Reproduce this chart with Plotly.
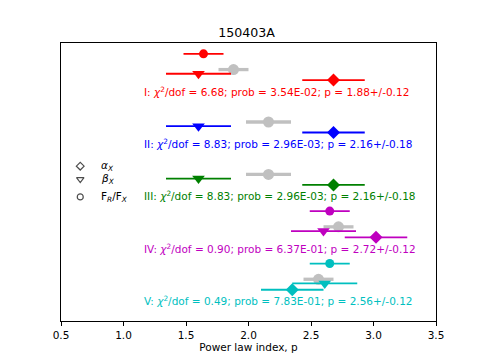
import plotly.graph_objects as go

# ---- data ----
groups = ["I", "II", "III", "IV", "V"]
colors = ["#ff0000", "#0000ff", "#008000", "#bf00bf", "#00bfbf"]
chi2_dof = [6.68, 8.83, 8.83, 0.90, 0.49]
prob = ["3.54E-02", "2.96E-03", "2.96E-03", "6.37E-01", "7.83E-01"]
p_fit = [1.88, 2.16, 2.16, 2.72, 2.56]
p_fit_err = [0.12, 0.18, 0.18, 0.12, 0.12]
alpha_p = [2.68, 2.68, 2.68, 3.02, 2.35]
alpha_err = [0.25, 0.25, 0.25, 0.25, 0.25]
beta_p = [1.60, 1.60, 1.60, 2.60, 2.61]
beta_err = [0.26, 0.26, 0.26, 0.26, 0.26]
ratio_p = [1.64, None, None, 2.65, 2.65]
ratio_err = [0.16, None, None, 0.16, 0.16]

legend_labels = ["<i>α</i><sub><i>X</i></sub>",
                 "<i>β</i><sub><i>X</i></sub>",
                 "F<sub><i>R</i></sub>/F<sub><i>X</i></sub>"]
legend_symbols = ["diamond-open", "triangle-down-open", "circle-open"]

x_ticks = [0.5, 1.0, 1.5, 2.0, 2.5, 3.0, 3.5]

# vertical layout of rows within each group
off_ratio, off_fit, off_beta, off_alpha = -0.71, -0.41, -0.33, -0.21
legend_y = [2.432, 2.682, 3.019]

FONT = "DejaVu Sans"
fig = go.Figure()

for i, g in enumerate(groups):
    base = i + 1
    c = colors[i]
    # combined fit (grey)
    fig.add_trace(go.Scatter(
        x=[p_fit[i]], y=[base + off_fit], mode="markers",
        marker=dict(symbol="circle", size=11, color="#c0c0c0"),
        error_x=dict(type="data", array=[p_fit_err[i]], color="#c0c0c0",
                     thickness=3.3, width=0),
        showlegend=False, hoverinfo="skip"))
    if ratio_p[i] is not None:
        fig.add_trace(go.Scatter(
            x=[ratio_p[i]], y=[base + off_ratio], mode="markers",
            marker=dict(symbol="circle", size=9, color=c),
            error_x=dict(type="data", array=[ratio_err[i]], color=c,
                         thickness=1.8, width=0),
            showlegend=False, hoverinfo="skip"))
    fig.add_trace(go.Scatter(
        x=[beta_p[i]], y=[base + off_beta], mode="markers",
        marker=dict(symbol="triangle-down", size=11, color=c),
        error_x=dict(type="data", array=[beta_err[i]], color=c,
                     thickness=1.8, width=0),
        showlegend=False, hoverinfo="skip"))
    fig.add_trace(go.Scatter(
        x=[alpha_p[i]], y=[base + off_alpha], mode="markers",
        marker=dict(symbol="diamond", size=10, color=c),
        error_x=dict(type="data", array=[alpha_err[i]], color=c,
                     thickness=1.8, width=0),
        showlegend=False, hoverinfo="skip"))
    txt = (f"{g}: <i>χ</i><sup>2</sup>/dof = {chi2_dof[i]:.2f}; prob = {prob[i]}; "
           f"p = {p_fit[i]:.2f}+/-{p_fit_err[i]:.2f}")
    fig.add_annotation(x=1.15, y=base, text=txt, showarrow=False,
                       xanchor="left", yanchor="middle",
                       font=dict(family=FONT, size=10.5, color=c))

# manual legend
fig.add_trace(go.Scatter(
    x=[0.654] * 3, y=legend_y, mode="markers",
    marker=dict(symbol=legend_symbols, size=[6, 6.5, 6], color="black",
                line=dict(width=1.2, color="black")),
    showlegend=False, hoverinfo="skip"))
for lbl, yy in zip(legend_labels, legend_y):
    fig.add_annotation(x=0.8, y=yy, text=lbl, showarrow=False,
                       xanchor="left", yanchor="middle",
                       font=dict(family=FONT, size=10.5, color="black"))

# page body has an 8px margin: the figure is sized/offset to compensate
W, H = 477, 356
fig.update_layout(
    width=W, height=H,
    margin=dict(l=53, r=49, t=35, b=41),
    paper_bgcolor="white", plot_bgcolor="white",
    font=dict(family=FONT, size=10.5, color="black"),
    title=dict(text="150403A", x=0.5, xanchor="center", y=1 - 25 / H,
               yanchor="middle", font=dict(family=FONT, size=12.6, color="black")),
    showlegend=False,
)
fig.update_xaxes(
    range=[0.5, 3.5], tickvals=x_ticks, ticktext=[f"{v:.1f}" for v in x_ticks],
    ticks="outside", ticklen=4, tickwidth=1, tickcolor="black",
    showline=True, linecolor="black", linewidth=1, mirror=True,
    showgrid=False, zeroline=False,
    title=dict(text="Power law index, p", font=dict(family=FONT, size=10.5), standoff=4),
)
fig.update_yaxes(
    range=[5.386, 0.083], showticklabels=False, ticks="",
    showline=True, linecolor="black", linewidth=1, mirror=True,
    showgrid=False, zeroline=False,
)

fig.write_html("out.html")
